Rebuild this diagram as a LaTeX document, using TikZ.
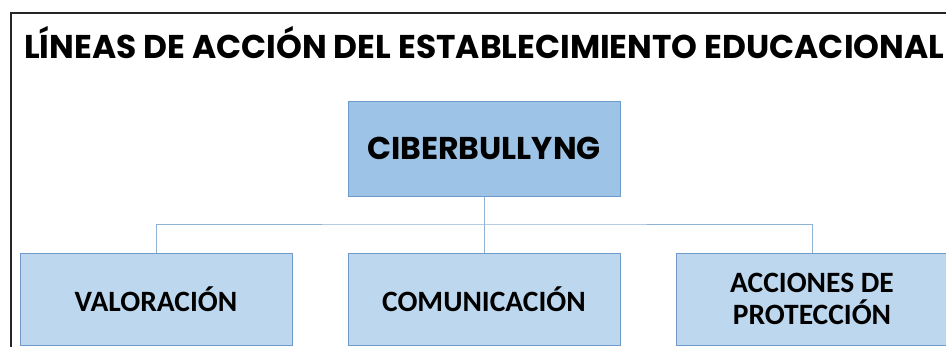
\documentclass[tikz,border=0pt]{standalone}
\usepackage{fontspec}
\setmainfont{Carlito}
\newfontfamily\geo{Poppins}
\definecolor{topfill}{HTML}{9DC3E6}
\definecolor{subfill}{HTML}{BDD7EE}
\definecolor{edge}{HTML}{6F9BCB}
\definecolor{link}{HTML}{8EB1D6}
\begin{document}
\begin{tikzpicture}[x=1pt,y=-1pt,
  boxbase/.style={draw=edge,line width=1pt,minimum width=272pt,inner sep=0pt,align=center},
  topbox/.style={boxbase,fill=topfill,minimum height=95pt,font=\geo\fontsize{31.5}{36}\selectfont\bfseries},
  subbox/.style={boxbase,fill=subfill,minimum height=92pt,font=\fontsize{29.5}{32}\selectfont\bfseries},
  conn/.style={draw=link,line width=1pt}]
\useasboundingbox (0,0) rectangle (946,346);
\draw[line width=2pt,black!85] (11,350) -- (11,13) -- (950,13);
\node[anchor=west,inner sep=0pt] (title) at (24,43)
  {\resizebox{920pt}{!}{\geo\bfseries LÍNEAS DE ACCIÓN DEL ESTABLECIMIENTO EDUCACIONAL}};
\node[topbox] (cb) at (484,148.5) {CIBERBULLYNG};
\node[subbox] (val) at (156,299) {VALORACIÓN};
\node[subbox] (com) at (484,299) {COMUNICACIÓN};
\node[subbox] (acc) at (812,299) {ACCIONES DE\\PROTECCIÓN};
\coordinate (bus) at (484,224);
\draw[conn] (cb.south) -- (com.north);
\draw[conn] (val.north) |- (bus) -| (acc.north);
\end{tikzpicture}
\end{document}
